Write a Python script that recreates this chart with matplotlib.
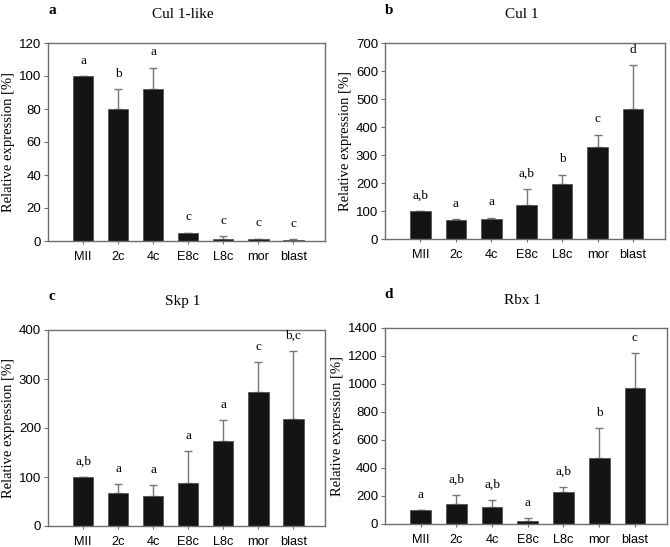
import matplotlib
matplotlib.use("Agg")
import matplotlib.pyplot as plt
import numpy as np

stages = ["MII", "2c", "4c", "E8c", "L8c", "mor", "blast"]

cul1like_vals = [100, 80, 92, 5, 1.5, 1, 0.5]
cul1like_err = [0, 12, 13, 0, 1.5, 0.4, 0.5]
cul1like_sig = ["a", "b", "a", "c", "c", "c", "c"]

cul1_vals = [100, 67, 70, 122, 196, 330, 465]
cul1_err = [0, 3, 6, 56, 34, 43, 155]
cul1_sig = ["a,b", "a", "a", "a,b", "b", "c", "d"]

skp1_vals = [100, 68, 62, 87, 174, 273, 219]
skp1_err = [0, 18, 22, 66, 42, 62, 139]
skp1_sig = ["a,b", "a", "a", "a", "a", "c", "b,c"]

rbx1_vals = [100, 143, 125, 20, 230, 475, 975]
rbx1_err = [0, 65, 45, 22, 35, 210, 247]
rbx1_sig = ["a", "a,b", "a,b", "a", "a,b", "b", "c"]

panels = [
    ("a", "Cul 1-like", cul1like_vals, cul1like_err, cul1like_sig, 120, 20),
    ("b", "Cul 1", cul1_vals, cul1_err, cul1_sig, 700, 100),
    ("c", "Skp 1", skp1_vals, skp1_err, skp1_sig, 400, 100),
    ("d", "Rbx 1", rbx1_vals, rbx1_err, rbx1_sig, 1400, 200),
]

# axes boxes in pixels: left, top, right, bottom
boxes = [(48, 43, 325, 241), (385, 43, 665, 239),
         (48, 330, 325, 526), (385, 328, 667, 524)]

W, H = 670, 547
fig = plt.figure(figsize=(W / 100, H / 100), dpi=100)
serif = "Liberation Serif"
sans = "Liberation Sans"
spine_col = "#6e6e6e"

for (letter, title, vals, err, sig, ymax, step), (l, t, r, b) in zip(panels, boxes):
    ax = fig.add_axes([l / W, 1 - b / H, (r - l) / W, (b - t) / H])
    x = np.arange(len(stages))
    ax.bar(x, vals, width=0.58, color="#141414", edgecolor="#555555", linewidth=0.6, zorder=2)
    ax.errorbar(x, vals, yerr=[np.zeros(len(err)), err], fmt="none", ecolor="#777777",
                elinewidth=1.0, capsize=3, capthick=1.0, zorder=1)
    ax.set_xlim(-1, 6.9)
    ax.set_ylim(0, ymax)
    ax.set_yticks(np.arange(0, ymax + 1, step))
    ax.set_xticks(x)
    ax.set_xticklabels(stages, fontfamily=sans, fontsize=9.2)
    for lab in ax.get_yticklabels():
        lab.set_fontfamily(sans)
        lab.set_fontsize(9.5)
    ax.tick_params(axis="y", direction="out", length=3, width=0.8, color=spine_col, pad=2)
    ax.tick_params(axis="x", direction="out", length=2, width=0.8, color=spine_col, pad=5)
    for sp in ax.spines.values():
        sp.set_color(spine_col)
        sp.set_linewidth(1.0)
    ax.set_ylabel("Relative expression [%]", fontfamily=serif, fontsize=10.5, labelpad=3)
    for xi, v, e, s in zip(x, vals, err, sig):
        ax.annotate(s, (xi, v + e), xytext=(0, 11), textcoords="offset points",
                    ha="center", va="center", fontfamily=serif, fontsize=9.5)
    fig.text((l + r) / 2 / W - 0.005, 1 - (t - 28) / H, title, ha="center", va="center",
             fontfamily=serif, fontsize=11)
    fig.text((l + 4) / W, 1 - (t - 33) / H, letter, ha="center", va="center",
             fontfamily=serif, fontsize=11, fontweight="bold")

fig.savefig("out.png", dpi=100)
